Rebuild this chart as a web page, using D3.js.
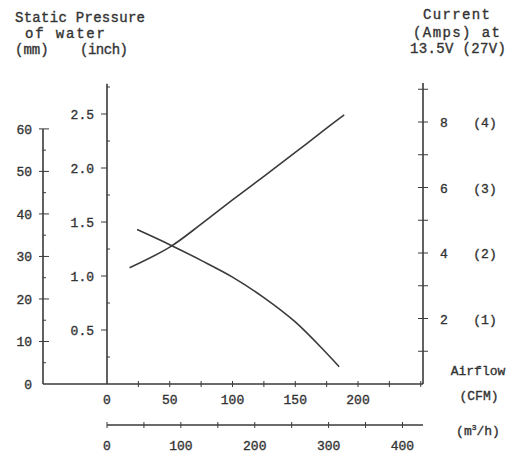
<!DOCTYPE html>
<html><head><meta charset="utf-8">
<script src="https://cdn.jsdelivr.net/npm/d3@7"></script>
<style>
html,body{margin:0;padding:0;background:#fff;}
svg text{font-family:"Liberation Mono","DejaVu Sans Mono",monospace;fill:#333;stroke:#333;stroke-width:0.35;}
</style></head>
<body>
<svg id="c" width="520" height="455"></svg>
<script>
// ---- data ----
const pressureCFM  = [24, 50, 75, 100, 125, 150, 175, 185];
const pressureInch = [1.43, 1.29, 1.145, 0.99, 0.80, 0.575, 0.285, 0.16];
const currentCFM   = [18, 50, 75, 100, 125, 150, 175, 189];
const currentAmps  = [3.55, 4.18, 4.88, 5.62, 6.34, 7.07, 7.81, 8.22];

const inchTicks = [0.5, 1.0, 1.5, 2.0, 2.5];
const mmTicks   = [0, 10, 20, 30, 40, 50, 60];
const cfmTicks  = [0, 50, 100, 150, 200];
const m3hTicks  = [0, 100, 200, 300, 400];
const ampTicks  = [2, 4, 6, 8];
const ampTicks27 = ["(1)", "(2)", "(3)", "(4)"];

const leftTitle  = ["Static Pressure", "of water", "(mm)", "(inch)"];
const rightTitle = ["Current", "(Amps) at", "13.5V (27V)"];

// ---- drawing ----
const svg = d3.select("#c");
const ink = "#3a3a3a";

const y = d3.scaleLinear().domain([0, 2.5]).range([384, 114]);      // inch
const yMM = d3.scaleLinear().domain([0, 63.5]).range([384, 114]);   // mm
const x = d3.scaleLinear().domain([0, 200]).range([107, 358]);      // CFM
const xM = d3.scaleLinear().domain([0, 400]).range([107, 107 + 400 * 0.5886 * (251 / 200)]); // m3/h
const yA = d3.scaleLinear().domain([0, 8]).range([384, 122]);       // amps

const g = svg.append("g").attr("stroke", ink).attr("fill", "none");

// baseline
const xRight = 423;
g.append("line").attr("x1", 43).attr("x2", xRight).attr("y1", 384).attr("y2", 384).attr("stroke-width", 1.6);

// mm axis
g.append("line").attr("x1", 43).attr("x2", 43).attr("y1", 384).attr("y2", yMM(60)).attr("stroke-width", 1.6);
d3.range(5, 61, 5).forEach(v => {
  const major = v % 10 === 0;
  g.append("line").attr("x1", major ? 39 : 43).attr("x2", major ? 49 : 46)
    .attr("y1", yMM(v)).attr("y2", yMM(v)).attr("stroke-width", 1);
});
svg.selectAll(".mml").data(mmTicks).join("text")
  .attr("x", 32).attr("y", d => yMM(d) + 5).attr("text-anchor", "end")
  .attr("font-size", 13).text(d => d);

// inch axis
g.append("line").attr("x1", 107).attr("x2", 107).attr("y1", 384).attr("y2", y(2.78)).attr("stroke-width", 1.6);
d3.range(0.25, 2.76, 0.25).forEach(v => {
  const major = Math.abs(v * 2 - Math.round(v * 2)) < 1e-6;
  g.append("line").attr("x1", major ? 101 : 107).attr("x2", major ? 107 : 110)
    .attr("y1", y(v)).attr("y2", y(v)).attr("stroke-width", 1);
});
svg.selectAll(".inl").data(inchTicks).join("text")
  .attr("x", 94).attr("y", d => y(d) + 5).attr("text-anchor", "end")
  .attr("font-size", 13).text(d => d.toFixed(1));

// right amps axis
g.append("line").attr("x1", xRight).attr("x2", xRight).attr("y1", 384).attr("y2", 83).attr("stroke-width", 1.6);
d3.range(1, 10).forEach(v => {
  g.append("line").attr("x1", xRight - 5).attr("x2", xRight + 5)
    .attr("y1", yA(v)).attr("y2", yA(v)).attr("stroke-width", 1);
});
svg.selectAll(".al").data(ampTicks).join("text")
  .attr("x", 444).attr("y", d => yA(d) + 5).attr("text-anchor", "middle")
  .attr("font-size", 13).text(d => d);
svg.selectAll(".al2").data(ampTicks).join("text")
  .attr("x", 485).attr("y", d => yA(d) + 5).attr("text-anchor", "middle")
  .attr("font-size", 13).text((d, i) => ampTicks27[i]);

// CFM ticks on baseline
d3.range(25, 251, 25).forEach(v => {
  g.append("line").attr("x1", x(v)).attr("x2", x(v)).attr("y1", 381).attr("y2", 387).attr("stroke-width", 1);
});
svg.selectAll(".cl").data(cfmTicks).join("text")
  .attr("x", d => x(d)).attr("y", 404).attr("text-anchor", "middle")
  .attr("font-size", 13).text(d => d);

// m3/h axis
g.append("line").attr("x1", 107).attr("x2", xRight).attr("y1", 425).attr("y2", 425).attr("stroke-width", 1.4);
d3.range(0, 401, 50).forEach(v => {
  g.append("line").attr("x1", xM(v)).attr("x2", xM(v)).attr("y1", 422).attr("y2", 428).attr("stroke-width", 1);
});
svg.selectAll(".ml").data(m3hTicks).join("text")
  .attr("x", d => xM(d)).attr("y", 450).attr("text-anchor", "middle")
  .attr("font-size", 13).text(d => d);

// axis labels
svg.append("text").attr("x", 478).attr("y", 375).attr("text-anchor", "middle").attr("font-size", 13).text("Airflow");
svg.append("text").attr("x", 479).attr("y", 400).attr("text-anchor", "middle").attr("font-size", 13).text("(CFM)");
const mt = svg.append("text").attr("x", 478).attr("y", 435).attr("text-anchor", "middle").attr("font-size", 13);
mt.append("tspan").text("(m");
mt.append("tspan").attr("font-size", 8).attr("dy", -5).text("3");
mt.append("tspan").attr("dy", 5).text("/h)");

// titles
const lPos = [[15, 22, 130], [25, 38, 80], [15, 54, null], [80, 54, 48]];
leftTitle.forEach((t, i) => {
  const tx = svg.append("text").attr("x", lPos[i][0]).attr("y", lPos[i][1]).attr("font-size", 14).text(t);
  if (lPos[i][2]) tx.attr("textLength", lPos[i][2]).attr("lengthAdjust", "spacing");
});
const rPos = [[423, 19, 67], [413, 37, 87], [410, 53, 96]];
rightTitle.forEach((t, i) => {
  svg.append("text").attr("x", rPos[i][0]).attr("y", rPos[i][1]).attr("font-size", 14)
    .attr("textLength", rPos[i][2]).attr("lengthAdjust", "spacing").text(t);
});

// curves
const line1 = d3.line().x(d => x(d[0])).y(d => y(d[1])).curve(d3.curveCatmullRom);
const line2 = d3.line().x(d => x(d[0])).y(d => yA(d[1])).curve(d3.curveCatmullRom);
g.append("path").attr("d", line1(d3.zip(pressureCFM, pressureInch))).attr("stroke-width", 1.6);
g.append("path").attr("d", line2(d3.zip(currentCFM, currentAmps))).attr("stroke-width", 1.6);
</script>
</body></html>
